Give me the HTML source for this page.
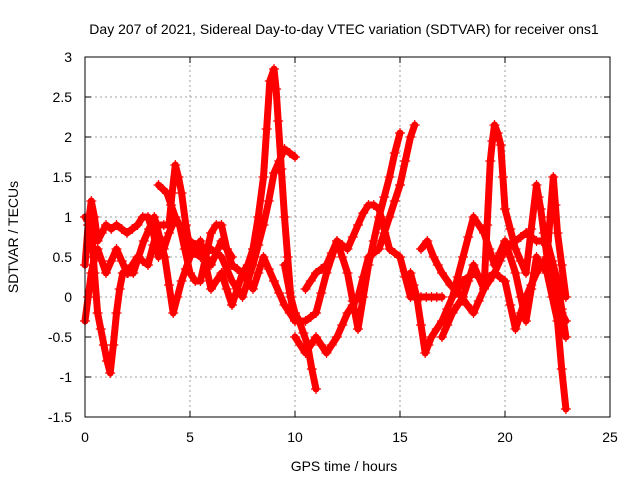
<!DOCTYPE html>
<html><head><meta charset="utf-8"><style>
html,body{margin:0;padding:0;background:#fff;}
svg{display:block;font-family:"Liberation Sans",sans-serif;}
</style></head><body>
<svg id="chart" width="640" height="480">
<text x="344" y="34" font-size="14" text-anchor="middle">Day 207 of 2021, Sidereal Day-to-day VTEC variation (SDTVAR) for receiver ons1</text>
<g id="grid"></g>
<g id="axes"></g>
<g id="series"></g>
<rect x="85" y="57" width="525" height="360" fill="none" stroke="#000" stroke-width="1"/>
<text x="344" y="471" font-size="14" text-anchor="middle">GPS time / hours</text>
<text x="18" y="237" font-size="14" text-anchor="middle" transform="rotate(-90 18 237)">SDTVAR / TECUs</text>
</svg>
<script>
const xTicks=[0,5,10,15,20,25];
const yTicks=[-1.5,-1,-0.5,0,0.5,1,1.5,2,2.5,3];
const trackA=[[0,0.4],[0.15,0.9],[0.3,1.2],[0.45,1.0],[0.6,0.7],[0.8,0.8],[1,0.9],[1.25,0.85],[1.5,0.9],[1.75,0.85],[2,0.8],[2.25,0.85],[2.5,0.9],[2.75,1.0],[3,1.0],[3.25,0.8],[3.5,0.5],[3.75,0.6],[4,0.8],[4.25,0.95],[4.5,0.9],[4.75,0.6],[5,0.3],[5.25,0.2],[5.5,0.2],[5.75,0.5],[6,0.8],[6.25,0.9],[6.5,0.9],[6.75,0.6],[7,0.4],[7.25,0.35],[7.5,0.3],[7.75,0.4],[8,0.6],[8.25,1.0],[8.5,1.5],[8.65,2.1],[8.8,2.7],[9,2.85],[9.1,2.6],[9.2,2.2],[9.35,1.6],[9.5,1.0],[9.65,0.5],[9.8,0.0],[10,-0.2],[10.2,-0.3],[10.4,-0.45],[10.6,-0.6],[10.8,-0.9],[11,-1.15]];
const trackB=[[0,-0.3],[0.15,0.0],[0.3,0.3],[0.45,0.5],[0.6,0.6],[0.8,0.45],[1,0.3],[1.25,0.45],[1.5,0.6],[1.75,0.45],[2,0.3],[2.25,0.4],[2.5,0.5],[2.75,0.45],[3,0.4],[3.25,0.65],[3.5,0.9],[3.75,0.9],[4,0.9],[4.15,1.3],[4.3,1.65],[4.45,1.5],[4.6,1.3],[4.8,0.9],[5,0.6],[5.25,0.55],[5.5,0.5],[5.75,0.55],[6,0.6],[6.25,0.55],[6.5,0.5],[6.75,0.35],[7,0.2],[7.25,0.1],[7.5,0.0],[7.75,0.2],[8,0.4],[8.25,0.65],[8.5,0.9],[8.75,1.2],[9,1.55],[9.25,1.7],[9.5,1.85],[9.75,1.8],[10,1.75]];
const trackC=[[0,1.0],[0.15,0.95],[0.3,0.9],[0.45,0.3],[0.6,-0.2],[0.75,-0.4],[0.9,-0.6],[1.05,-0.8],[1.2,-0.95],[1.35,-0.6],[1.5,-0.2],[1.65,0.1],[1.8,0.3],[2.05,0.3],[2.3,0.3],[2.55,0.5],[2.8,0.7],[3.05,0.85],[3.3,1.0],[3.55,0.75],[3.8,0.5],[4,0.15],[4.2,-0.2],[4.4,0.0],[4.6,0.2],[4.8,0.35],[5,0.5],[5.25,0.6],[5.5,0.7],[5.75,0.4],[6,0.1],[6.25,0.2],[6.5,0.3],[6.75,0.1],[7,-0.1],[7.25,0.1],[7.5,0.3],[7.75,0.2],[8,0.1],[8.25,0.3],[8.5,0.5],[8.75,0.35],[9,0.2],[9.25,0.05],[9.5,-0.1],[9.75,-0.2],[10,-0.3]];
const trackD=[[3.5,1.4],[3.7,1.35],[3.9,1.3],[4.1,1.15],[4.3,1.0],[4.5,0.9],[4.7,0.8],[5,0.7],[5.25,0.65],[5.5,0.6],[5.75,0.5],[6,0.4],[6.25,0.55],[6.5,0.7],[6.75,0.6],[7,0.5]];
const trackE=[[9.5,0.4],[9.75,0.05],[10,-0.3],[10.25,-0.3],[10.5,-0.3],[10.75,-0.25],[11,-0.2],[11.25,0.05],[11.5,0.3],[11.75,0.5],[12,0.7],[12.25,0.5],[12.5,0.3],[12.75,-0.05],[13,-0.4],[13.25,0.0],[13.5,0.4],[13.75,0.7],[14,1.0],[14.25,1.25],[14.5,1.5],[14.75,1.8],[15,2.05]];
const trackF=[[10,-0.5],[10.25,-0.6],[10.5,-0.7],[10.75,-0.6],[11,-0.5],[11.25,-0.6],[11.5,-0.7],[11.75,-0.6],[12,-0.5],[12.25,-0.35],[12.5,-0.2],[12.75,-0.1],[13,0.0],[13.25,0.25],[13.5,0.5],[13.75,0.55],[14,0.6],[14.25,0.8],[14.5,1.0],[14.75,1.2],[15,1.4],[15.25,1.7],[15.5,2.0],[15.7,2.15]];
const trackG=[[10.5,0.1],[10.75,0.2],[11,0.3],[11.25,0.35],[11.5,0.4],[11.75,0.55],[12,0.7],[12.25,0.65],[12.5,0.6],[12.75,0.75],[13,0.9],[13.25,1.05],[13.5,1.15],[13.75,1.15],[14,1.1],[14.25,0.85],[14.5,0.6],[14.75,0.55],[15,0.5],[15.25,0.25],[15.5,0.0],[15.75,0.0],[16,0.0],[16.25,0.0],[16.5,0.0],[16.75,0.0],[17,0.0]];
const trackH=[[15.5,0.3],[15.65,0.15],[15.8,0.0],[16,-0.35],[16.2,-0.7],[16.35,-0.6],[16.5,-0.5],[16.75,-0.4],[17,-0.3],[17.25,-0.15],[17.5,0.0],[17.75,0.25],[18,0.5],[18.25,0.75],[18.5,1.0],[18.75,0.9],[19,0.8],[19.25,0.6],[19.5,0.4],[19.75,0.55],[20,0.7],[20.25,0.5],[20.5,0.3],[20.75,0.0],[21,-0.3],[21.25,0.1],[21.5,0.5],[21.75,0.4],[22,0.3],[22.25,0.0],[22.5,-0.3],[22.7,-0.9],[22.9,-1.4]];
const trackI=[[17,-0.5],[17.25,-0.35],[17.5,-0.2],[17.75,-0.1],[18,0.0],[18.25,0.2],[18.5,0.4],[18.75,0.25],[19,0.1],[19.15,0.9],[19.3,1.7],[19.4,1.95],[19.5,2.15],[19.65,2.05],[19.8,1.9],[19.9,1.5],[20,1.1],[20.25,0.85],[20.5,0.6],[20.75,0.45],[21,0.3],[21.25,0.85],[21.5,1.4],[21.6,1.25],[21.7,1.1],[21.85,0.8],[22,0.5],[22.15,1.0],[22.3,1.5],[22.4,1.15],[22.5,0.8],[22.7,0.4],[22.9,0.0]];
const trackJ=[[17.5,0.0],[17.75,0.1],[18,0.2],[18.25,0.25],[18.5,0.3],[18.75,0.25],[19,0.2],[19.25,0.25],[19.5,0.3],[19.75,0.45],[20,0.6],[20.25,0.65],[20.5,0.7],[20.75,0.75],[21,0.8],[21.25,0.75],[21.5,0.7],[21.75,0.7],[22,0.7],[22.25,0.45],[22.5,0.2],[22.7,-0.15],[22.9,-0.5]];
const trackK=[[16,0.6],[16.3,0.7],[16.6,0.5],[16.8,0.4],[17,0.3],[17.4,0.15],[17.8,0.05],[18.2,-0.1],[18.5,-0.2],[18.75,-0.05],[19,0.1],[19.25,0.2],[19.5,0.3],[19.75,0.25],[20,0.2],[20.25,-0.1],[20.5,-0.4],[20.75,-0.2],[21,0.0],[21.25,0.15],[21.5,0.3],[21.75,0.4],[22,0.5],[22.25,0.2],[22.5,-0.1],[22.7,-0.2],[22.9,-0.3]];
const tracks=[trackA,trackB,trackC,trackD,trackE,trackF,trackG,trackH,trackI,trackJ,trackK];

const NS="http://www.w3.org/2000/svg";
const X0=85,X1=610,Y0=417,Y1=57;
function sx(v){return X0+(v-0)/(25-0)*(X1-X0);}
function sy(v){return Y0-(v-(-1.5))/(3-(-1.5))*(Y0-Y1);}
function mk(t,a){const e=document.createElementNS(NS,t);for(const k in a)e.setAttribute(k,a[k]);return e;}
const grid=document.getElementById('grid'),axes=document.getElementById('axes'),ser=document.getElementById('series');
xTicks.forEach(t=>{const x=sx(t);
 if(t>0&&t<25){const g=mk('line',{x1:x,y1:Y0,x2:x,y2:Y1,stroke:'#a0a0a0','stroke-dasharray':'2,3'});grid.appendChild(g);}
 const tk=mk('path',{d:`M${x} ${Y0}v-6M${x} ${Y1}v6`,stroke:'#000'});axes.appendChild(tk);
 const l=mk('text',{x:x,y:Y0+25,'font-size':14,'text-anchor':'middle'});l.textContent=t;axes.appendChild(l);});
yTicks.forEach(t=>{const y=sy(t);
 if(t>-1.5&&t<3){const g=mk('line',{x1:X0,y1:y,x2:X1,y2:y,stroke:'#a0a0a0','stroke-dasharray':'2,3'});grid.appendChild(g);}
 const tk=mk('path',{d:`M${X0} ${y}h6M${X1} ${y}h-6`,stroke:'#000'});axes.appendChild(tk);
 const l=mk('text',{x:X0-13,y:y+5,'font-size':14,'text-anchor':'end'});l.textContent=t;axes.appendChild(l);});
tracks.forEach(tr=>{
 const pl=mk('polyline',{points:tr.map(p=>sx(p[0])+','+sy(p[1])).join(' '),fill:'none',stroke:'#f00','stroke-width':7,'stroke-linejoin':'round','stroke-linecap':'round'});
 
 
 ser.appendChild(pl);
 tr.forEach(p=>{const x=sx(p[0]),y=sy(p[1]);
  const m=mk('path',{d:`M${x-5} ${y}h10M${x} ${y-5}v10`,stroke:'#f00','stroke-width':1.2});
  
  
  ser.appendChild(m);});
});
</script>
</body></html>
